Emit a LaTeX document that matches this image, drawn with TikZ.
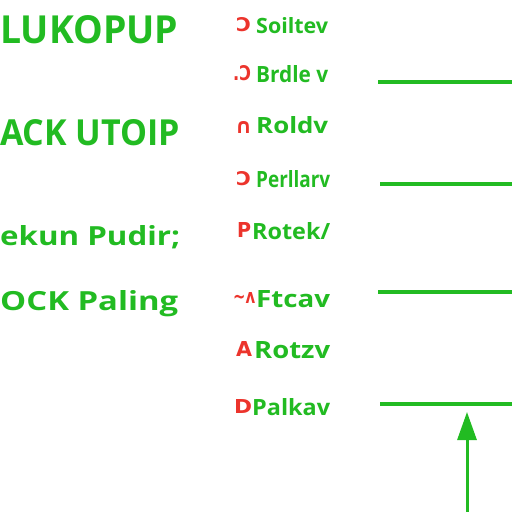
\documentclass[tikz,border=0pt]{standalone}
\usepackage{fontspec}
\usepackage{graphicx}
\setmainfont{Open Sans}[BoldFont={* Bold}]
\newfontfamily\symfont{DejaVu Sans}
\usetikzlibrary{arrows.meta}
\definecolor{lgreen}{RGB}{34,187,34}
\definecolor{lred}{RGB}{236,52,44}
\tikzset{
  bigtxt/.style={anchor=base west, inner sep=0pt, text=lgreen, font=\bfseries},
  smalltxt/.style={anchor=base west, inner sep=0pt, text=lgreen, font=\bfseries},
  redmark/.style={anchor=base west, inner sep=0pt, text=lred, font=\symfont\bfseries},
  gline/.style={draw=lgreen, line width=3.5pt},
  garrow/.style={draw=lgreen, fill=lgreen, line width=3pt, -{Triangle[length=28pt,width=19pt]}}
}
\begin{document}
\begin{tikzpicture}[x=1pt,y=-1pt]
\useasboundingbox[fill=white] (0,0) rectangle (512,512);
% left column
\node[bigtxt] (t1) at (0,43) {\resizebox{178pt}{28pt}{LUKOPUP}};
\node[bigtxt] (t2) at (0,145) {\resizebox{180pt}{26pt}{ACK UTOIP}};
\node[bigtxt] (t3) at (0,245) {\resizebox{180pt}{20pt}{ekun Pudir;}};
\node[bigtxt] (t4) at (0,310) {\resizebox{178pt}{20pt}{OCK Paling}};
% right column labels
\node[redmark] (r1) at (236,31) {\resizebox{15pt}{14pt}{Ɔ}};
\node[smalltxt] (s1) at (256,33) {\resizebox{72pt}{16pt}{Soiltev}};
\node[redmark] (r2) at (233,80) {\resizebox{18pt}{15pt}{.Ɔ}};
\node[smalltxt] (s2) at (256,82) {\resizebox{72pt}{17pt}{Brdle v}};
\node[redmark] (r3) at (235,133) {\resizebox{17pt}{12pt}{\symfont ∩}};
\node[smalltxt] (s3) at (256,133) {\resizebox{72pt}{17pt}{Roldv}};
\node[redmark] (r4) at (236,185) {\resizebox{15pt}{14pt}{Ɔ}};
\node[smalltxt] (s4) at (256,187) {\resizebox{74pt}{17pt}{Perllarv}};
\node[redmark] (r5) at (237,237) {\resizebox{14pt}{15pt}{P}};
\node[smalltxt] (s5) at (252,239) {\resizebox{78pt}{17pt}{Rotek/}};
\node[redmark] (r6) at (233,303) {\resizebox{22pt}{11pt}{\symfont \~{}ᴧ}};
\node[smalltxt] (s6) at (256,307) {\resizebox{74pt}{17pt}{Ftcav}};
\node[redmark] (r7) at (236,356) {\resizebox{16pt}{15pt}{A}};
\node[smalltxt] (s7) at (254,358) {\resizebox{76pt}{17pt}{Rotzv}};
\node[redmark] (r8) at (234,413) {\resizebox{18pt}{14pt}{D}};
\node[smalltxt] (s8) at (252,415) {\resizebox{78pt}{17pt}{Palkav}};
% lines
\coordinate (a1) at (378,82);  \coordinate (b1) at (512,82);
\coordinate (a2) at (380,184); \coordinate (b2) at (512,184);
\coordinate (a3) at (378,292); \coordinate (b3) at (512,292);
\coordinate (a4) at (380,404); \coordinate (b4) at (512,404);
\draw[gline] (a1) -- (b1);
\draw[gline] (a2) -- (b2);
\draw[gline] (a3) -- (b3);
\draw[gline] (a4) -- (b4);
% arrow
\coordinate (p0) at (467,512);
\coordinate (p1) at (467,412);
\draw[garrow] (p0) -- (p1);
\end{tikzpicture}
\end{document}
